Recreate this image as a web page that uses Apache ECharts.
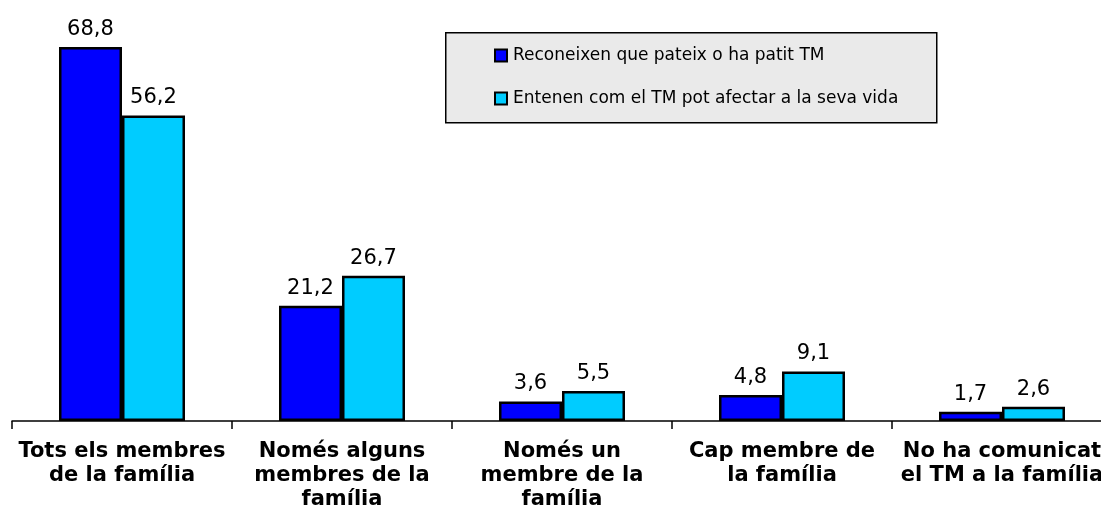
<!DOCTYPE html>
<html>
<head>
<meta charset="utf-8">
<script src="https://cdn.jsdelivr.net/npm/echarts@6/dist/echarts.min.js"></script>
<style>
html, body { margin: 0; padding: 0; background: #fff; overflow: hidden; }
#main { width: 1112px; height: 516px; }
</style>
</head>
<body>
<div id="main"></div>
<script>
var categories = [
    'Tots els membres\nde la família',
    'Només alguns\nmembres de la\nfamília',
    'Només un\nmembre de la\nfamília',
    'Cap membre de\nla família',
    'No ha comunicat\nel TM a la família'
];
var seriesNames = ['Reconeixen que pateix o ha patit TM', 'Entenen com el TM pot afectar a la seva vida'];
var reconeixen = [68.8, 21.2, 3.6, 4.8, 1.7];
var entenen = [56.2, 26.7, 5.5, 9.1, 2.6];
var colors = ['#0000FF', '#00CCFF'];

function comma(p) {
    return String(p.value).replace('.', ',');
}

function makeSeries(name, data, color) {
    return {
        name: name,
        type: 'bar',
        data: data,
        barWidth: 63,
        barGap: '0%',
        itemStyle: { color: color, borderColor: '#000', borderWidth: 2.5 },
        label: {
            show: true,
            position: 'top',
            distance: 7,
            formatter: comma,
            color: '#000',
            fontFamily: 'DejaVu Sans',
            fontSize: 21
        },
        emphasis: { disabled: true }
    };
}

var option = {
    animation: false,
    color: colors,
    textStyle: { fontFamily: 'DejaVu Sans' },
    graphic: [{
        type: 'rect',
        left: 445, top: 32,
        shape: { width: 491, height: 90 },
        style: { fill: '#EAEAEA', stroke: '#000', lineWidth: 1.5 },
        z: 0
    }],
    legend: {
        orient: 'vertical',
        left: 494, top: 47,
        padding: 0,
        itemWidth: 12, itemHeight: 12,
        itemGap: 26,
        icon: 'rect',
        itemStyle: { borderColor: '#000', borderWidth: 2 },
        textStyle: { fontFamily: 'DejaVu Sans', fontSize: 17, color: '#000', padding: [0, 0, 0, 1] },
        data: seriesNames
    },
    grid: { left: 12, right: 0, top: 40.5, bottom: 95, containLabel: false },
    xAxis: {
        type: 'category',
        data: categories,
        axisLine: { lineStyle: { color: '#000', width: 1.5 } },
        axisTick: { show: true, length: 8, lineStyle: { color: '#000', width: 1.5 } },
        axisLabel: {
            interval: 0,
            margin: 19,
            color: '#000',
            fontFamily: 'DejaVu Sans',
            fontWeight: 'bold',
            fontSize: 21,
            lineHeight: 24
        }
    },
    yAxis: {
        type: 'value',
        min: 0, max: 70,
        show: false,
        splitLine: { show: false }
    },
    series: [
        makeSeries(seriesNames[0], reconeixen, colors[0]),
        makeSeries(seriesNames[1], entenen, colors[1])
    ]
};

echarts.init(document.getElementById('main')).setOption(option);
</script>
</body>
</html>
